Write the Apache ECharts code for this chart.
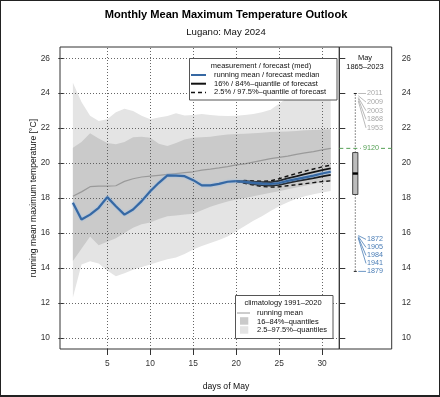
<!DOCTYPE html>
<html><head><meta charset="utf-8">
<script src="https://cdn.jsdelivr.net/npm/echarts@6/dist/echarts.min.js"></script>
<style>
html,body{margin:0;padding:0;background:#fff}
#c{position:absolute;left:0;top:0;width:440px;height:397px}
#frame{position:absolute;left:0;top:0;width:440px;height:397px;box-sizing:border-box;border:1px solid #222;border-bottom-width:2px;pointer-events:none}
</style>
</head><body><div id="c"></div><div id="frame"></div>
<script>
// ---------- data ----------
const days = [1,2,3,4,5,6,7,8,9,10,11,12,13,14,15,16,17,18,19,20,21,22,23,24,25,26,27,28,29,30,31];
const climMean = [18.1,18.35,18.65,18.68,18.68,18.7,18.95,19.1,19.2,19.25,19.3,19.35,19.4,19.45,19.5,19.6,19.65,19.72,19.8,19.9,19.95,20.05,20.15,20.25,20.32,20.4,20.5,20.58,20.65,20.75,20.84];
const clim16 = [14.4,15.1,15.8,15.3,15.5,15.7,16.0,16.3,16.5,16.6,16.8,16.95,17.0,17.05,17.1,17.3,17.5,17.65,17.8,17.92,18.0,18.1,18.2,18.3,18.39,18.5,18.6,18.7,18.8,18.9,18.96];
const clim84 = [20.88,21.2,21.7,21.4,21.15,21.07,21.2,21.48,21.5,21.45,21.1,20.97,21.15,21.35,21.45,21.47,21.5,21.57,21.63,21.66,21.68,21.7,21.74,21.77,21.79,21.81,21.84,21.87,21.89,21.91,21.93];
const clim025 = [12.3,14.2,14.38,14.25,13.85,13.52,13.7,13.9,14.05,14.19,14.35,14.5,14.6,14.8,15.05,15.25,15.42,15.6,15.8,16.1,16.4,16.7,16.96,17.25,17.53,17.75,17.95,18.1,18.22,18.32,18.4];
const clim975 = [24.6,23.5,22.7,22.4,22.5,22.9,23.1,22.98,22.7,22.5,22.6,22.69,22.85,22.72,22.75,22.8,22.75,22.7,22.69,22.7,22.75,22.8,22.9,23.05,23.4,23.75,23.95,24.1,24.2,24.3,24.4];

const obsDays = [1,2,3,4,5,6,7,8,9,10,11,12,13,14,15,16,17,18,19,20];
const obsMean = [17.73,16.77,17.05,17.44,18.05,17.53,17.05,17.34,17.82,18.39,18.87,19.29,19.28,19.25,19.02,18.72,18.72,18.81,18.93,18.96];

const fcDays = [20,21,22,23,24,25,26,27,28,29,30,31];
const fcMed  = [18.96,18.92,18.86,18.82,18.80,18.86,18.98,19.08,19.18,19.28,19.40,19.50];
const fc16   = [18.96,18.88,18.80,18.74,18.71,18.75,18.86,18.96,19.05,19.14,19.24,19.32];
const fc84   = [18.96,18.97,18.93,18.90,18.90,18.98,19.12,19.24,19.36,19.48,19.60,19.70];
const fc025  = [18.96,18.84,18.74,18.66,18.62,18.64,18.70,18.76,18.82,18.88,18.94,18.98];
const fc975  = [18.96,19.00,18.98,18.96,18.98,19.10,19.26,19.40,19.54,19.66,19.78,19.88];

const xTicks = [5,10,15,20,25,30];
const yTicks = [10,12,14,16,18,20,22,24,26];

// history May 1865-2023: [min, q1, median, q3, max]
const boxStats = [13.8,18.2,19.4,20.6,23.98];
const topYears = ['2011','2009','2003','1868','1953'];
const topYearVals = [23.98,23.85,23.75,23.68,23.55];
const bottomYears = ['1872','1905','1984','1941','1879'];
const bottomYearVals = [15.85,15.8,15.75,15.7,13.8];
const refValue = 20.84;
const refLabel = '9120';

// ---------- chart ----------
const FONT = '"Liberation Sans", Arial, Helvetica, sans-serif';
const chart = echarts.init(document.getElementById('c'), null, {renderer:'canvas'});
const pairs = (xs, ys) => xs.map((x,i)=>[x, ys[i]]);

const YMIN = 9.36, YMAX = 26.64;
const GRAYTOP = '#a8a8a8', BLUELAB = '#4a7db6', GREEN = '#55a055';
const BOXX = 0.305;

function lineSeries(name, xs, ys, style, z){
  return {type:'line', name, data: pairs(xs, ys), symbol:'none', silent:true, z, lineStyle: style, xAxisIndex:0, yAxisIndex:0};
}
// band as a polygon: every point mapped through the axes
function bandSeries(lo, hi, color, z){
  return {type:'custom', xAxisIndex:0, yAxisIndex:0, silent:true, z,
    data: days.map((d,i)=>[d, lo[i], hi[i]]),
    renderItem:function(params, api){
      if (params.dataIndex !== 0) return null;
      const upper = days.map((d,i)=>api.coord([d, hi[i]]));
      const lower = days.map((d,i)=>api.coord([d, lo[i]])).reverse();
      return {type:'polygon', shape:{points: upper.concat(lower)}, style:{fill:color, stroke:null}};
    }};
}

const option = {
  animation:false,
  grid:[
    {left:60, top:47, width:279.3, height:302, show:true, borderColor:'#333', borderWidth:1, backgroundColor:'#fff'},
    {left:339.3, top:47, width:52.4, height:302, show:true, borderColor:'#333', borderWidth:1}
  ],
  xAxis:[
    {type:'value', gridIndex:0, min:-0.5, max:32, axisLine:{show:false}, splitLine:{show:false},
     axisTick:{show:true, length:6, customValues:xTicks, lineStyle:{color:'#333'}},
     axisLabel:{show:true, customValues:xTicks, margin:11, fontSize:8.4, color:'#333', fontFamily:FONT}},
    {type:'value', gridIndex:1, min:0, max:1, show:false}
  ],
  yAxis:[
    {type:'value', gridIndex:0, min:YMIN, max:YMAX, axisLine:{show:false}, splitLine:{show:false},
     axisTick:{show:true, length:6, customValues:yTicks, lineStyle:{color:'#333'}},
     axisLabel:{show:true, customValues:yTicks, margin:10, fontSize:8.4, color:'#333', fontFamily:FONT}},
    {type:'value', gridIndex:1, min:YMIN, max:YMAX, position:'right', axisLine:{show:false}, splitLine:{show:false},
     axisTick:{show:true, length:6, customValues:yTicks, lineStyle:{color:'#333'}},
     axisLabel:{show:true, customValues:yTicks, margin:10, fontSize:8.4, color:'#333', fontFamily:FONT}}
  ],
  series:[
    bandSeries(clim025, clim975, '#e4e4e4', 1),
    bandSeries(clim16, clim84, '#cacaca', 2),
    // climatology running mean + grid lines
    Object.assign(lineSeries('clim', days, climMean, {color:'#9a9a9a', width:1.2}, 3), {
      markLine:{silent:true, symbol:['none','none'], label:{show:false}, animation:false,
        lineStyle:{type:[1,2], color:'#555', width:0.9},
        emphasis:{disabled:true},
        data: xTicks.map(v=>({xAxis:v})).concat(yTicks.map(v=>({yAxis:v})))}
    }),
    // forecast quantiles
    lineSeries('fc025', fcDays, fc025, {color:'#111', width:1.4, type:[4,3]}, 5),
    lineSeries('fc975', fcDays, fc975, {color:'#111', width:1.4, type:[4,3]}, 5),
    lineSeries('fc16', fcDays, fc16, {color:'#111', width:1.8}, 6),
    lineSeries('fc84', fcDays, fc84, {color:'#111', width:1.8}, 6),
    // running mean / forecast median
    lineSeries('obs', obsDays, obsMean, {color:'#3668a3', width:2.2, shadowColor:'#8fb9e8', shadowBlur:2}, 7),
    lineSeries('med', fcDays, fcMed, {color:'#3668a3', width:2.2, shadowColor:'#8fb9e8', shadowBlur:2}, 7),
    // history boxplot (side panel)
    {type:'custom', xAxisIndex:1, yAxisIndex:1, silent:true, z:5, data:[boxStats],
     renderItem:function(params, api){
        const x = api.coord([BOXX, api.value(0)])[0];
        const y = i => api.coord([BOXX, api.value(i)])[1];
        const yMin=y(0), yQ1=y(1), yMed=y(2), yQ3=y(3), yMax=y(4);
        const st = {stroke:'#222', lineWidth:1, lineDash:[1,2]};
        return {type:'group', children:[
          {type:'line', shape:{x1:x,y1:yQ3,x2:x,y2:yMax}, style:st},
          {type:'line', shape:{x1:x,y1:yQ1,x2:x,y2:yMin}, style:st},
          {type:'line', shape:{x1:x-1.5,y1:yMax,x2:x+1.5,y2:yMax}, style:{stroke:'#222',lineWidth:1}},
          {type:'line', shape:{x1:x-1.5,y1:yMin,x2:x+1.5,y2:yMin}, style:{stroke:'#222',lineWidth:1}},
          {type:'rect', shape:{x:x-2.6,y:yQ3,width:5.2,height:yQ1-yQ3}, style:{fill:'#bdbdbd', stroke:'#444', lineWidth:1}},
          {type:'line', shape:{x1:x-2.6,y1:yMed,x2:x+2.6,y2:yMed}, style:{stroke:'#000', lineWidth:2.4}}
        ]};
     }},
    // reference line
    {type:'custom', xAxisIndex:1, yAxisIndex:1, silent:true, z:5, data:[[refValue]],
     renderItem:function(params, api){
        const y = api.coord([0, api.value(0)])[1];
        const x0 = api.coord([0, 0])[0], x1 = api.coord([1, 0])[0];
        const st = {stroke:GREEN, lineWidth:1, lineDash:[4,3]};
        return {type:'group', children:[
          {type:'line', shape:{x1:x0,y1:y,x2:361,y2:y}, style:st},
          {type:'line', shape:{x1:381,y1:y,x2:x1,y2:y}, style:st},
          {type:'text', style:{x:371, y:y, text:refLabel, fill:GREEN, fontSize:7.2, fontFamily:FONT, align:'center', verticalAlign:'middle'}}
        ]};
     }},
    // top year labels
    {type:'custom', xAxisIndex:1, yAxisIndex:1, silent:true, z:5, data:topYearVals.map(v=>[v]),
     renderItem:function(params, api){
        const i = params.dataIndex;
        const x = api.coord([BOXX, 0])[0];
        const yv = api.coord([0, api.value(0)])[1];
        const ly = api.coord([0, boxStats[4]])[1] + i*8.6;
        return {type:'group', children:[
          {type:'line', shape:{x1:x+3,y1:yv,x2:366,y2:ly}, style:{stroke:GRAYTOP, lineWidth:0.8}},
          {type:'text', style:{x:367, y:ly, text:topYears[i], fill:GRAYTOP, fontSize:7.2, fontFamily:FONT, align:'left', verticalAlign:'middle'}}
        ]};
     }},
    // bottom year labels
    {type:'custom', xAxisIndex:1, yAxisIndex:1, silent:true, z:5, data:bottomYearVals.map(v=>[v]),
     renderItem:function(params, api){
        const i = params.dataIndex;
        const n = bottomYears.length;
        const x = api.coord([BOXX, 0])[0];
        const yv = api.coord([0, api.value(0)])[1];
        const ly = api.coord([0, boxStats[0]])[1] - (n-1-i)*8;
        return {type:'group', children:[
          {type:'line', shape:{x1:x+3,y1:yv,x2:366,y2:ly}, style:{stroke:BLUELAB, lineWidth:0.8}},
          {type:'text', style:{x:367, y:ly, text:bottomYears[i], fill:BLUELAB, fontSize:7.2, fontFamily:FONT, align:'left', verticalAlign:'middle'}}
        ]};
     }}
  ],
  graphic:[
    {type:'text', x:226, y:15, style:{text:'Monthly Mean Maximum Temperature Outlook', fontSize:11.1, fontWeight:'bold', fontFamily:FONT, fill:'#000', align:'center', verticalAlign:'middle'}},
    {type:'text', x:226, y:32, style:{text:'Lugano: May 2024', fontSize:9.6, fontFamily:FONT, fill:'#111', align:'center', verticalAlign:'middle'}},
    {type:'text', x:226, y:387, style:{text:'days of May', fontSize:8.65, fontFamily:FONT, fill:'#111', align:'center', verticalAlign:'middle'}},
    {type:'text', x:34, y:198, rotation:Math.PI/2, style:{text:'running mean maximum temperature [°C]', fontSize:8.65, fontFamily:FONT, fill:'#111', align:'center', verticalAlign:'middle'}},
    {type:'text', x:365, y:58, style:{text:'May', fontSize:7.5, fontFamily:FONT, fill:'#111', align:'center', verticalAlign:'middle'}},
    {type:'text', x:365, y:67, style:{text:'1865–2023', fontSize:7.5, fontFamily:FONT, fill:'#111', align:'center', verticalAlign:'middle'}},
    // legend 1
    {type:'rect', z:100, shape:{x:189.5, y:58.5, width:147.5, height:41.5}, style:{fill:'#fff', stroke:'#555', lineWidth:1}},
    {type:'text', z:101, x:261, y:65.7, style:{text:'measurement / forecast (med)', fontSize:7.5, fontFamily:FONT, fill:'#111', align:'center', verticalAlign:'middle'}},
    {type:'line', z:101, shape:{x1:191, y1:75, x2:206, y2:75}, style:{stroke:'#3668a3', lineWidth:2}},
    {type:'text', z:101, x:214, y:75, style:{text:'running mean / forecast median', fontSize:7.5, fontFamily:FONT, fill:'#111', align:'left', verticalAlign:'middle'}},
    {type:'line', z:101, shape:{x1:191, y1:83.7, x2:206, y2:83.7}, style:{stroke:'#111', lineWidth:2}},
    {type:'text', z:101, x:214, y:83.7, style:{text:'16% / 84%–quantile of forecast', fontSize:7.5, fontFamily:FONT, fill:'#111', align:'left', verticalAlign:'middle'}},
    {type:'line', z:101, shape:{x1:191, y1:92.4, x2:206, y2:92.4}, style:{stroke:'#111', lineWidth:1.5, lineDash:[4,3]}},
    {type:'text', z:101, x:214, y:92.4, style:{text:'2.5% / 97.5%–quantile of forecast', fontSize:7.5, fontFamily:FONT, fill:'#111', align:'left', verticalAlign:'middle'}},
    // legend 2
    {type:'rect', z:100, shape:{x:235.5, y:295.5, width:97.5, height:43}, style:{fill:'#fff', stroke:'#555', lineWidth:1}},
    {type:'text', z:101, x:283, y:302.7, style:{text:'climatology 1991–2020', fontSize:7.5, fontFamily:FONT, fill:'#111', align:'center', verticalAlign:'middle'}},
    {type:'line', z:101, shape:{x1:237, y1:313, x2:250, y2:313}, style:{stroke:'#9a9a9a', lineWidth:1}},
    {type:'text', z:101, x:257, y:312.7, style:{text:'running mean', fontSize:7.5, fontFamily:FONT, fill:'#111', align:'left', verticalAlign:'middle'}},
    {type:'rect', z:101, shape:{x:240, y:317.2, width:8.3, height:7.5}, style:{fill:'#cacaca'}},
    {type:'text', z:101, x:257, y:321.5, style:{text:'16–84%–quantiles', fontSize:7.5, fontFamily:FONT, fill:'#111', align:'left', verticalAlign:'middle'}},
    {type:'rect', z:101, shape:{x:240, y:326.2, width:8.3, height:7.5}, style:{fill:'#e4e4e4'}},
    {type:'text', z:101, x:257, y:330.2, style:{text:'2.5–97.5%–quantiles', fontSize:7.5, fontFamily:FONT, fill:'#111', align:'left', verticalAlign:'middle'}}
  ]
};
chart.setOption(option);
</script>
</body></html>
